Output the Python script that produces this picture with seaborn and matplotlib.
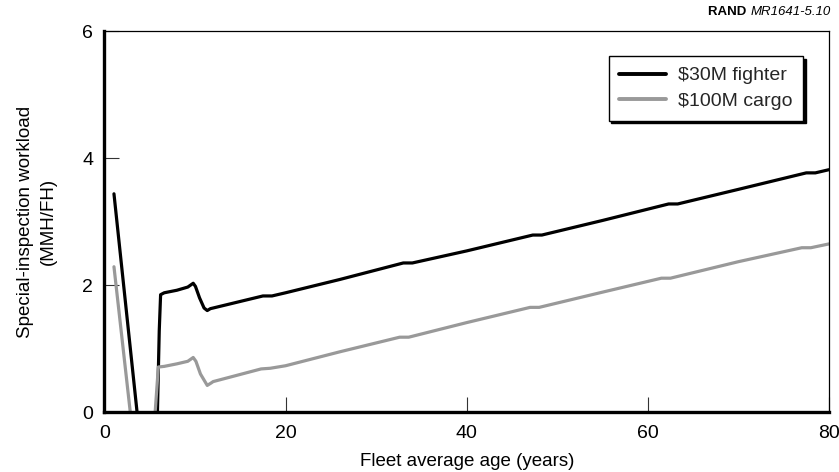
import matplotlib
matplotlib.use("Agg")
import matplotlib.pyplot as plt
import seaborn as sns
import pandas as pd

# ---- data ----
fighter_age = [1.05, 3.6, 4.2, 5.3, 5.85, 6.05, 6.2, 6.6, 8.0, 9.2, 9.8, 10.05, 10.5, 11.0, 11.35,
               11.7, 12.0, 17.5, 18.5, 20.0, 26.0, 33.0, 34.0, 40.0, 47.3, 48.3, 55.0, 62.3,
               63.3, 70.0, 77.5, 78.5, 80.0]
fighter_load = [3.44, 0.0, -0.8, -0.8, 0.0, 1.28, 1.85, 1.88, 1.92, 1.97, 2.03, 1.98, 1.80, 1.64, 1.60,
                1.63, 1.64, 1.83, 1.83, 1.88, 2.09, 2.35, 2.35, 2.54, 2.79, 2.79, 3.02, 3.28,
                3.28, 3.51, 3.77, 3.77, 3.82]
cargo_age = [1.05, 2.85, 3.4, 5.0, 5.6, 5.95, 6.6, 8.0, 9.2, 9.8, 10.1, 10.6, 11.35,
             11.8, 12.0, 17.3, 18.3, 20.0, 26.0, 32.6, 33.6, 40.0, 47.0, 48.0, 55.0, 61.5,
             62.5, 70.0, 77.0, 78.0, 80.0]
cargo_load = [2.29, 0.0, -0.8, -0.8, 0.0, 0.71, 0.72, 0.76, 0.80, 0.86, 0.80, 0.60, 0.42,
              0.46, 0.48, 0.68, 0.69, 0.73, 0.95, 1.18, 1.18, 1.41, 1.65, 1.65, 1.89, 2.11,
              2.11, 2.37, 2.59, 2.59, 2.65]
series_names = ["$30M fighter", "$100M cargo"]
x_ticks = [0, 20, 40, 60, 80]
y_ticks = [0, 2, 4, 6]

df = pd.concat([
    pd.DataFrame({"age": fighter_age, "load": fighter_load, "series": series_names[0]}),
    pd.DataFrame({"age": cargo_age, "load": cargo_load, "series": series_names[1]}),
], ignore_index=True)

sns.set_theme(style="white")
plt.rcParams["font.family"] = ["Liberation Sans", "DejaVu Sans"]

fig = plt.figure(figsize=(8.39, 4.72), dpi=100)
ax = fig.add_axes([0.1245, 0.127, 0.8635, 0.8065])

palette = {series_names[0]: "#000000", series_names[1]: "#999999"}
sns.lineplot(data=df, x="age", y="load", hue="series", palette=palette, sort=False,
             estimator=None, linewidth=2.3, ax=ax, legend=False)

ax.set_xlim(0, 80)
ax.set_ylim(0, 6)
ax.set_xticks(x_ticks)
ax.set_yticks(y_ticks)
ax.tick_params(axis="both", which="major", bottom=True, left=True, top=False, right=False,
               direction="in", length=11, width=0.8, color="#333333",
               labelsize=14, labelcolor="black")
ax.tick_params(axis="x", pad=9.5)
ax.tick_params(axis="y", pad=8)

for side in ["left", "bottom"]:
    ax.spines[side].set_linewidth(2.4)
    ax.spines[side].set_color("black")
for side in ["top", "right"]:
    ax.spines[side].set_linewidth(0.9)
    ax.spines[side].set_color("black")
    ax.spines[side].set_visible(True)

ax.set_xlabel("Fleet average age (years)", fontsize=13.5, color="black", labelpad=8)
ax.set_ylabel("Special-inspection workload\n(MMH/FH)", fontsize=13.5, color="black",
              labelpad=18, linespacing=1.45)

handles = [plt.Line2D([], [], color=palette[n], linewidth=2.8) for n in series_names]
labels = [n.replace("$", r"\$") for n in series_names]
leg = ax.legend(handles, labels, loc="upper right", bbox_to_anchor=(0.964, 0.935),
                frameon=True, fancybox=False, shadow={"color": "black", "alpha": 1.0},
                fontsize=14, handlelength=2.4, handletextpad=0.6, borderpad=0.55,
                labelspacing=0.4, borderaxespad=0)
leg.get_frame().set_edgecolor("black")
leg.get_frame().set_linewidth(1.0)
leg.get_frame().set_facecolor("white")
leg.get_frame().set_alpha(1.0)

t = fig.text(0.99, 0.975, "MR1641-5.10", ha="right", va="center", fontsize=9.5,
             style="italic", color="black")
ax.annotate("RAND ", xy=(0, 0.5), xycoords=t, ha="right", va="center", fontsize=9.5,
            fontweight="bold", color="black", annotation_clip=False)

fig.savefig("out.png", dpi=100)
